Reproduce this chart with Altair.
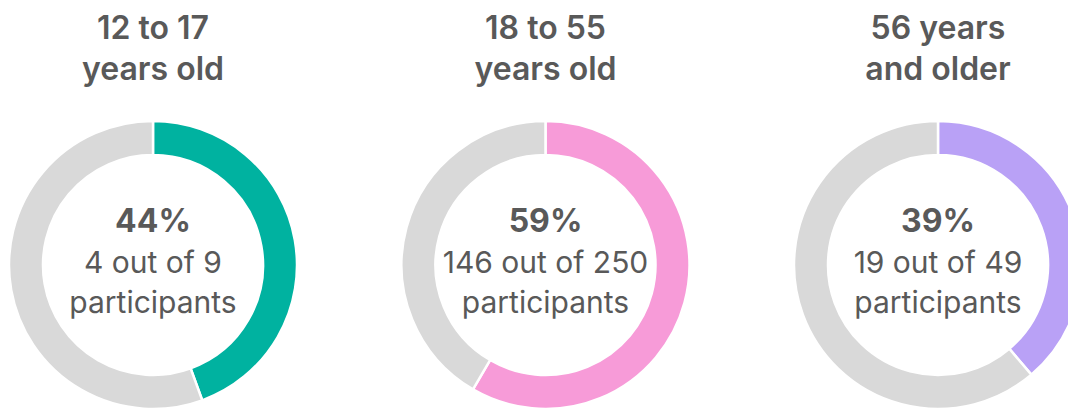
import altair as alt
import pandas as pd

# ---- data ----
groups = ["12 to 17 years old", "18 to 55 years old", "56 years and older"]
title_line1 = ["12 to 17", "18 to 55", "56 years"]
title_line2 = ["years old", "years old", "and older"]
percent_labels = ["44%", "59%", "39%"]
counts = [4, 146, 19]
totals = [9, 250, 49]
seg_colors = ["#00B2A0", "#F79BD8", "#B9A1F6"]
rest_color = "#D9D9D9"
text_color = "#595959"
FONT = "Inter"

# arc table: highlighted segment + remainder per group
rows = []
for g, c, t in zip(groups, counts, totals):
    rows.append({"group": g, "seg": g, "value": c, "order": 0})
    rows.append({"group": g, "seg": "rest", "value": t - c, "order": 1})
arc_df = pd.DataFrame(rows)

text_df = pd.DataFrame({
    "group": groups,
    "line1": title_line1,
    "line2": title_line2,
    "pct": percent_labels,
    "detail": [f"{c} out of {t}" for c, t in zip(counts, totals)],
    "part": ["participants"] * len(groups),
})

xscale = alt.Scale(type="point", domain=groups, range=[145, 930], padding=0)
X = alt.X("group:N", scale=xscale, axis=None)

arcs = (
    alt.Chart(arc_df)
    .transform_joinaggregate(total="sum(value)", groupby=["group"])
    .transform_window(cum="sum(value)", groupby=["group"],
                      sort=[alt.SortField("order")], frame=[None, 0])
    .transform_calculate(start="(datum.cum - datum.value) / datum.total",
                         end="datum.cum / datum.total")
    .mark_arc(outerRadius=144, innerRadius=110, stroke="white", strokeWidth=2.5)
    .encode(
        x=X,
        y=alt.value(257),
        theta=alt.Theta("start:Q", scale=alt.Scale(domain=[0, 1])),
        theta2="end:Q",
        color=alt.Color("seg:N",
                        scale=alt.Scale(domain=groups + ["rest"],
                                        range=seg_colors + [rest_color]),
                        legend=None),
    )
)

tbase = alt.Chart(text_df)

def txt(field, y, size, weight):
    return tbase.mark_text(
        font=FONT, fontSize=size, fontWeight=weight, color=text_color,
        align="center", baseline="alphabetic",
    ).encode(x=X, y=alt.value(y), text=f"{field}:N")

chart = alt.layer(
    arcs,
    txt("line1", 31, 32, 600),
    txt("line2", 72, 32, 600),
    txt("pct", 224, 32, 700),
    txt("detail", 265, 30, 400),
    txt("part", 305, 30, 400),
).properties(
    width=1060, height=402, padding=0,
    autosize=alt.AutoSizeParams(type="none"),
).configure_view(stroke=None)

chart.save("out.html", embed_options={"renderer": "svg", "actions": False})
